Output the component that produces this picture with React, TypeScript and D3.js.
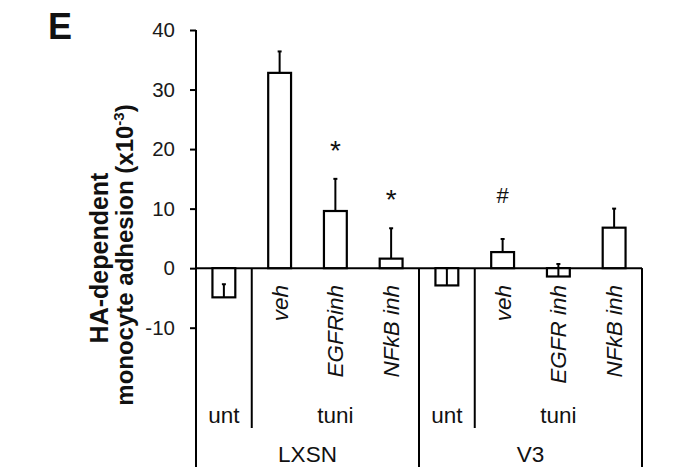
import React, { useRef, useEffect } from "react";
import * as d3 from "d3";

// bar data (units x10^-3)
const barLabels = ["", "veh", "EGFRinh", "NFkB inh", "", "veh", "EGFR inh", "NFkB inh"];
const treatments = ["unt", "tuni", "tuni", "tuni", "unt", "tuni", "tuni", "tuni"];
const cellLines = ["LXSN", "LXSN", "LXSN", "LXSN", "V3", "V3", "V3", "V3"];
const values = [-4.9, 32.8, 9.6, 1.6, -2.9, 2.7, -1.4, 6.8];
const errors = [2.2, 3.6, 5.4, 5.1, 2.9, 2.2, 2.1, 3.2];
const marks = ["", "", "*", "*", "", "#", "", ""];
const yTicks = [-10, 0, 10, 20, 30, 40];

const FONT = "'Liberation Sans', Arial, Helvetica, sans-serif";

// consecutive runs of equal values -> [start, end] index ranges
function runs(arr: string[]) {
	const out: { name: string; start: number; end: number }[] = [];
	arr.forEach((v, i) => {
		const last = out[out.length - 1];
		if (last && last.name === v && last.end === i - 1) last.end = i;
		else out.push({ name: v, start: i, end: i });
	});
	return out;
}

const App = () => {
	const chartRef = useRef<SVGSVGElement>(null);

	useEffect(() => {
		const width = 686;
		const height = 467;
		const bottom = height + 4;
		const treatLineEnd = 428;

		d3.select(chartRef.current).selectAll("*").remove();

		const svg = d3
			.select(chartRef.current)
			.attr("width", width)
			.attr("height", height)
			.style("font-family", FONT);

		const idx = values.map((_, i) => String(i));

		const xScale = d3.scaleBand<string>()
			.domain(idx)
			.range([196, 642])
			.padding(0);

		const yScale = d3.scaleLinear()
			.domain([-10, 40])
			.range([327.7, 30]);

		const barW = xScale.bandwidth() * 0.41;
		const cx = (i: number) => (xScale(String(i)) as number) + xScale.bandwidth() / 2;
		const y0 = yScale(0);

		// y axis
		const yAxis = d3.axisLeft(yScale)
			.tickValues(yTicks)
			.tickSize(6)
			.tickPadding(15)
			.tickFormat(d => String(d));

		const ax = svg.append("g")
			.attr("transform", `translate(196, 0)`)
			.call(yAxis);
		ax.select(".domain").remove();
		ax.selectAll(".tick line").attr("stroke", "#000").attr("stroke-width", 2);
		ax.selectAll(".tick text")
			.attr("font-size", 20.5)
			.attr("font-family", FONT)
			.attr("fill", "#1a1a1a");

		svg.append("line")
			.attr("x1", 196).attr("x2", 196)
			.attr("y1", yScale(40)).attr("y2", bottom)
			.attr("stroke", "#000").attr("stroke-width", 2);

		// zero line
		svg.append("line")
			.attr("x1", 196).attr("x2", 642)
			.attr("y1", y0).attr("y2", y0)
			.attr("stroke", "#000").attr("stroke-width", 2);

		// bars
		svg.selectAll(".bar")
			.data(values)
			.enter()
			.append("rect")
			.attr("class", "bar")
			.attr("x", (d, i) => cx(i) - barW / 2)
			.attr("y", d => Math.min(yScale(d), y0))
			.attr("width", barW)
			.attr("height", d => Math.abs(yScale(d) - y0))
			.attr("fill", "#fff")
			.attr("stroke", "#000")
			.attr("stroke-width", 2.2);

		// error bars (plus direction)
		const err = svg.append("g");
		values.forEach((v, i) => {
			const top = yScale(v + errors[i]);
			err.append("line")
				.attr("x1", cx(i)).attr("x2", cx(i))
				.attr("y1", yScale(v)).attr("y2", top)
				.attr("stroke", "#000").attr("stroke-width", 2);
			err.append("line")
				.attr("x1", cx(i) - 2).attr("x2", cx(i) + 2)
				.attr("y1", top).attr("y2", top)
				.attr("stroke", "#000").attr("stroke-width", 2);
		});

		// significance marks
		const markData = marks
			.map((m, i) => ({ m, i }))
			.filter(d => d.m !== "");
		svg.selectAll(".mark")
			.data(markData)
			.enter()
			.append("text")
			.attr("class", "mark")
			.attr("x", d => cx(d.i))
			.attr("y", d => yScale(values[d.i] + errors[d.i]) - (d.m === "#" ? 36 : 19))
			.attr("text-anchor", "middle")
			.attr("font-size", d => (d.m === "#" ? 22 : 28))
			.attr("fill", "#111")
			.text(d => d.m);

		// rotated bar labels
		barLabels.forEach((lab, i) => {
			if (!lab) return;
			svg.append("text")
				.attr("transform", `translate(${cx(i) + 8}, 285) rotate(-90)`)
				.attr("text-anchor", "end")
				.attr("font-size", 22.5)
				.attr("font-style", "italic")
				.attr("fill", "#111")
				.text(lab);
		});

		// treatment groups
		const treatRuns = runs(treatments.map((t, i) => cellLines[i] + "|" + t));
		treatRuns.forEach(r => {
			const x1 = xScale(String(r.start)) as number;
			const x2 = (xScale(String(r.end)) as number) + xScale.bandwidth();
			svg.append("text")
				.attr("x", (x1 + x2) / 2)
				.attr("y", 423)
				.attr("text-anchor", "middle")
				.attr("font-size", 22.5)
				.attr("fill", "#111")
				.text(r.name.split("|")[1]);
			svg.append("line")
				.attr("x1", x2).attr("x2", x2)
				.attr("y1", y0).attr("y2", treatLineEnd)
				.attr("stroke", "#000").attr("stroke-width", 2);
		});

		// cell line groups
		runs(cellLines).forEach(r => {
			const x1 = xScale(String(r.start)) as number;
			const x2 = (xScale(String(r.end)) as number) + xScale.bandwidth();
			svg.append("text")
				.attr("x", (x1 + x2) / 2)
				.attr("y", 462)
				.attr("text-anchor", "middle")
				.attr("font-size", 22.5)
				.attr("fill", "#111")
				.text(r.name);
			svg.append("line")
				.attr("x1", x2).attr("x2", x2)
				.attr("y1", y0).attr("y2", bottom)
				.attr("stroke", "#000").attr("stroke-width", 2);
		});

		// y title
		svg.append("text")
			.attr("transform", `translate(108, 258) rotate(-90)`)
			.attr("text-anchor", "middle")
			.attr("font-size", 25)
			.attr("font-weight", "bold")
			.attr("fill", "#111")
			.text("HA-dependent");
		const l2 = svg.append("text")
			.attr("transform", `translate(133, 255) rotate(-90)`)
			.attr("text-anchor", "middle")
			.attr("font-size", 24)
			.attr("font-weight", "bold")
			.attr("fill", "#111");
		l2.append("tspan").text("monocyte adhesion (x10");
		l2.append("tspan").attr("font-size", 15).attr("dy", -9).text("-3");
		l2.append("tspan").attr("dy", 9).text(")");

		// panel letter
		svg.append("text")
			.attr("x", 48)
			.attr("y", 39)
			.attr("font-size", 36)
			.attr("font-weight", "bold")
			.attr("fill", "#111")
			.text("E");
	}, []);

	return <svg ref={chartRef} style={{ position: "absolute", left: 0, top: 0, background: "#fff" }}></svg>;
};

export default App;
